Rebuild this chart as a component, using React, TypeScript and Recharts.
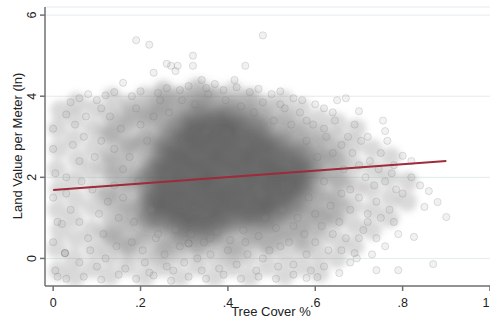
import { CartesianGrid, Label, Scatter, ScatterChart, XAxis, YAxis } from "recharts";

type Pt = [number, number];

const xTicks = [0, 0.2, 0.4, 0.6, 0.8, 1];
const xTickLabels = ["0", ".2", ".4", ".6", ".8", "1"];
const yTicks = [0, 2, 4, 6];

// linear fit, read at its two ends
const fitX = [0, 0.9];
const fitY = [1.69, 2.4];

// broad light cloud (blurred)
const cloudPts: Pt[] = [
  [0.012, -0.3], [0.008, 0.25], [0.015, 0.7], [0.01, 1.2], [0.014, 1.7], [0.009, 2.2], [0.013, 2.7], [0.01, 3.2], [0.016, 3.65],
  [0.05, -0.45], [0.048, 0.0], [0.053, 0.48], [0.047, 0.98], [0.052, 1.45], [0.05, 1.95], [0.055, 2.45], [0.049, 2.95], [0.051, 3.45], [0.054, 3.85],
  [0.09, -0.25], [0.093, 0.22], [0.088, 0.72], [0.091, 1.25], [0.095, 1.72], [0.087, 2.2], [0.092, 2.72], [0.09, 3.2], [0.094, 3.7],
  [0.13, -0.42], [0.128, 0.05], [0.133, 0.55], [0.131, 1.05], [0.127, 1.55], [0.134, 2.05], [0.13, 2.55], [0.132, 3.05], [0.129, 3.55], [0.135, 3.98],
  [0.17, -0.2], [0.173, 0.3], [0.168, 0.8], [0.171, 1.3], [0.175, 1.8], [0.169, 2.3], [0.172, 2.8], [0.17, 3.3], [0.174, 3.8],
  [0.21, -0.45], [0.212, 0.02], [0.208, 0.5], [0.213, 1.0], [0.21, 1.5], [0.207, 2.0], [0.214, 2.5], [0.21, 3.0], [0.212, 3.5], [0.209, 4.0],
  [0.25, -0.22], [0.252, 0.28], [0.248, 0.78], [0.253, 1.28], [0.25, 1.78], [0.247, 2.28], [0.251, 2.78], [0.254, 3.28], [0.249, 3.78], [0.252, 4.15],
  [0.29, -0.45], [0.288, 0.05], [0.293, 0.52], [0.29, 1.02], [0.287, 1.52], [0.292, 2.02], [0.29, 2.52], [0.294, 3.02], [0.289, 3.52], [0.291, 4.0],
  [0.33, -0.2], [0.333, 0.3], [0.328, 0.8], [0.331, 1.3], [0.335, 1.8], [0.329, 2.3], [0.332, 2.8], [0.33, 3.3], [0.334, 3.8], [0.33, 4.2],
  [0.37, -0.45], [0.372, 0.02], [0.368, 0.5], [0.373, 1.0], [0.37, 1.5], [0.367, 2.0], [0.374, 2.5], [0.37, 3.0], [0.372, 3.5], [0.369, 4.0],
  [0.41, -0.22], [0.412, 0.28], [0.408, 0.78], [0.413, 1.28], [0.41, 1.78], [0.407, 2.28], [0.411, 2.78], [0.414, 3.28], [0.409, 3.78], [0.412, 4.12],
  [0.45, -0.45], [0.448, 0.05], [0.453, 0.52], [0.45, 1.02], [0.447, 1.52], [0.452, 2.02], [0.45, 2.52], [0.454, 3.02], [0.449, 3.52], [0.451, 3.95],
  [0.49, -0.2], [0.493, 0.3], [0.488, 0.8], [0.491, 1.3], [0.495, 1.8], [0.489, 2.3], [0.492, 2.8], [0.49, 3.3], [0.494, 3.8],
  [0.53, -0.42], [0.532, 0.05], [0.528, 0.52], [0.533, 1.02], [0.53, 1.52], [0.527, 2.02], [0.534, 2.52], [0.53, 3.02], [0.532, 3.5], [0.529, 3.9],
  [0.57, -0.2], [0.572, 0.28], [0.568, 0.78], [0.573, 1.28], [0.57, 1.78], [0.567, 2.28], [0.571, 2.78], [0.574, 3.25], [0.569, 3.7],
  [0.61, -0.35], [0.608, 0.1], [0.613, 0.55], [0.61, 1.05], [0.607, 1.55], [0.612, 2.05], [0.61, 2.55], [0.614, 3.05], [0.609, 3.45],
  [0.65, 0.0], [0.653, 0.45], [0.648, 0.95], [0.651, 1.45], [0.655, 1.95], [0.649, 2.45], [0.652, 2.95], [0.65, 3.35],
  [0.69, 0.3], [0.692, 0.8], [0.688, 1.3], [0.693, 1.8], [0.69, 2.3], [0.687, 2.8], [0.694, 3.2],
  [0.73, 0.7], [0.732, 1.2], [0.728, 1.7], [0.733, 2.2], [0.73, 2.7],
  [0.77, 1.0], [0.772, 1.5], [0.768, 2.0], [0.773, 2.5],
  [0.81, 1.4], [0.812, 1.9],
];

// medium density body (blurred)
const bodyPts: Pt[] = [
  [0.13, 0.6], [0.135, 1.5], [0.128, 2.3], [0.132, 3.1],
  [0.17, 0.3], [0.172, 1.1], [0.168, 1.9], [0.174, 2.7], [0.17, 3.5],
  [0.21, 0.7], [0.213, 1.4], [0.208, 2.1], [0.211, 2.9], [0.215, 3.6],
  [0.25, 0.2], [0.252, 0.9], [0.248, 1.5], [0.254, 2.2], [0.25, 2.8], [0.247, 3.4], [0.252, 3.9],
  [0.29, 0.5], [0.293, 1.2], [0.288, 1.8], [0.291, 2.5], [0.295, 3.2], [0.29, 3.8],
  [0.33, 0.3], [0.332, 0.9], [0.328, 1.6], [0.334, 2.2], [0.33, 2.9], [0.327, 3.5], [0.332, 4.0],
  [0.37, 0.6], [0.373, 1.3], [0.368, 1.9], [0.371, 2.6], [0.375, 3.3], [0.37, 3.9],
  [0.41, 0.2], [0.412, 0.9], [0.408, 1.6], [0.413, 2.3], [0.41, 3.0], [0.407, 3.6],
  [0.45, 0.6], [0.452, 1.2], [0.448, 1.9], [0.451, 2.6], [0.455, 3.3], [0.45, 3.8],
  [0.49, 0.4], [0.492, 1.0], [0.488, 1.6], [0.494, 2.2], [0.49, 2.9], [0.487, 3.5],
  [0.53, 0.7], [0.533, 1.3], [0.528, 2.0], [0.531, 2.7], [0.535, 3.3],
  [0.57, 0.5], [0.572, 1.1], [0.568, 1.8], [0.574, 2.4], [0.57, 3.0],
  [0.61, 0.9], [0.612, 1.5], [0.608, 2.2], [0.613, 2.8],
  [0.65, 1.2], [0.652, 1.9], [0.648, 2.5],
];

// dark core (blurred)
const corePts: Pt[] = [
  [0.29, 0.78], [0.33, 0.74], [0.37, 0.77],
  [0.22, 1.1], [0.25, 1.08], [0.29, 1.04], [0.325, 1.07], [0.36, 1.05], [0.395, 1.08], [0.43, 1.04], [0.465, 1.06], [0.5, 1.08],
  [0.235, 1.42], [0.27, 1.38], [0.305, 1.41], [0.34, 1.4], [0.375, 1.43], [0.41, 1.39], [0.445, 1.41], [0.48, 1.4], [0.515, 1.42], [0.55, 1.4],
  [0.225, 1.77], [0.26, 1.74], [0.295, 1.76], [0.33, 1.75], [0.365, 1.78], [0.4, 1.74], [0.435, 1.76], [0.47, 1.75], [0.505, 1.77], [0.54, 1.74], [0.57, 1.8],
  [0.23, 2.12], [0.265, 2.08], [0.3, 2.11], [0.335, 2.1], [0.37, 2.13], [0.405, 2.09], [0.44, 2.11], [0.475, 2.1], [0.51, 2.12], [0.545, 2.08], [0.58, 2.15],
  [0.25, 2.47], [0.285, 2.44], [0.32, 2.46], [0.355, 2.45], [0.39, 2.48], [0.425, 2.44], [0.46, 2.46], [0.495, 2.45], [0.53, 2.47], [0.565, 2.5],
  [0.265, 2.82], [0.3, 2.79], [0.335, 2.81], [0.37, 2.8], [0.405, 2.83], [0.44, 2.79], [0.475, 2.81], [0.51, 2.8],
  [0.29, 3.17], [0.325, 3.14], [0.36, 3.16], [0.395, 3.15], [0.43, 3.18], [0.465, 3.14],
  [0.33, 3.48], [0.37, 3.44], [0.41, 3.47],
];

// single visible markers: edges, outliers, sparse interior
const edgePts: Pt[] = [
  [0.19, 5.38], [0.22, 5.27], [0.32, 5.0], [0.32, 4.75], [0.26, 4.8], [0.27, 4.75], [0.285, 4.75], [0.28, 4.62],
  [0.23, 4.58], [0.16, 4.33], [0.34, 4.4], [0.44, 4.75], [0.415, 4.4], [0.48, 5.5], [0.7, 3.63], [0.76, 3.14],
  [0.765, 2.9], [0.8, 2.53], [0.67, 3.95], [0.65, 3.9], [0.9, 1.02], [0.87, -0.14], [0.826, 0.53], [0.88, 1.39],
  [0.86, 1.66], [0.85, 1.27], [0.79, -0.29], [0.74, -0.29], [0.69, 0.13], [0.655, -0.36], [0.605, -0.46],
  [0.03, 3.55], [0.04, 3.85], [0.06, 3.95], [0.08, 4.05], [0.1, 3.9], [0.12, 4.02], [0.14, 4.1], [0.18, 4.0],
  [0.2, 4.12], [0.24, 4.08], [0.26, 4.2], [0.29, 4.15], [0.31, 4.25], [0.35, 4.2], [0.37, 4.3], [0.39, 4.15],
  [0.42, 4.22], [0.45, 4.1], [0.47, 4.18], [0.5, 4.05], [0.52, 4.12], [0.55, 3.95], [0.57, 3.9], [0.6, 3.8],
  [0.62, 3.7], [0.64, 3.6],
  [0.0, 3.2], [0.0, 2.7], [0.005, 2.1], [0.0, 1.5], [0.01, 0.9], [0.0, 0.4], [0.005, -0.3], [0.01, -0.45],
  [0.03, -0.5], [0.07, -0.45], [0.11, -0.52], [0.15, -0.4], [0.19, -0.5], [0.23, -0.42], [0.27, -0.55], [0.31, -0.45],
  [0.35, -0.5], [0.39, -0.4], [0.43, -0.5], [0.47, -0.45], [0.51, -0.5], [0.55, -0.4], [0.58, -0.48],
  [0.62, -0.2], [0.66, 0.2], [0.7, 0.5], [0.72, 0.9], [0.74, 1.4], [0.76, 1.9], [0.78, 2.3], [0.75, 2.6],
  [0.72, 3.0], [0.69, 3.3], [0.8, 1.6], [0.82, 2.0], [0.84, 1.8], [0.78, 0.9], [0.76, 0.3], [0.73, 0.1],
  [0.68, -0.1], [0.82, 2.4],
  [0.02, 0.85], [0.027, 0.13], [0.027, 0.13], [0.027, 0.13], [0.04, 1.2], [0.06, 2.4], [0.05, 3.3], [0.08, 0.5],
  [0.09, 1.7], [0.11, 2.9], [0.12, 0.0], [0.13, 3.5], [0.15, 1.0], [0.16, 2.2], [0.18, 0.4], [0.2, 3.3],
  [0.21, -0.1], [0.24, 0.6], [0.26, -0.2], [0.29, 0.3], [0.31, 0.37], [0.31, 0.37], [0.33, 0.0], [0.36, 0.5],
  [0.4, 0.2], [0.44, 0.4], [0.48, 0.0], [0.52, 0.3], [0.55, 0.8], [0.58, 0.1], [0.6, 1.1], [0.62, 3.2],
  [0.66, 2.8], [0.68, 1.7], [0.7, 2.3], [0.64, 0.6], [0.58, 3.4], [0.53, 3.7], [0.1, -0.2], [0.06, -0.1],
  [0.14, 1.8], [0.03, 2.0], [0.07, 3.0],
];

// extra texture markers in the lighter parts of the cloud
const texturePts: Pt[] = [
  [0.03, 1.6], [0.045, 2.8], [0.06, 0.9], [0.065, 1.9], [0.075, 3.5], [0.085, 0.2], [0.095, 2.5], [0.105, 1.1],
  [0.11, 3.7], [0.115, 0.6], [0.125, 1.4], [0.14, 2.7], [0.145, 0.3], [0.155, 3.2], [0.16, 1.5], [0.165, -0.25],
  [0.175, 2.5], [0.185, 0.9], [0.19, 3.7], [0.195, 1.9], [0.205, 0.2], [0.215, 2.9], [0.22, -0.35], [0.225, 1.2],
  [0.23, 3.5], [0.235, 0.5], [0.245, 3.9], [0.255, 0.1], [0.265, 3.6], [0.275, -0.3], [0.28, 0.7], [0.295, 3.9],
  [0.3, -0.1], [0.315, 0.6], [0.325, 3.8], [0.34, -0.3], [0.345, 0.4], [0.355, 4.05], [0.36, 0.1], [0.375, 0.65],
  [0.38, -0.25], [0.395, 3.9], [0.405, 0.45], [0.42, -0.15], [0.43, 3.75], [0.435, 0.7], [0.445, 0.1], [0.46, 3.6],
  [0.465, -0.3], [0.47, 0.55], [0.48, 3.85], [0.485, 1.0], [0.495, 0.2], [0.505, 3.4], [0.51, 0.75], [0.515, -0.2],
  [0.52, 3.8], [0.525, 1.2], [0.54, 0.4], [0.545, 3.3], [0.55, -0.15], [0.56, 1.0], [0.565, 3.6], [0.575, 0.6],
  [0.58, 2.9], [0.585, 1.5], [0.59, -0.3], [0.595, 3.3], [0.6, 0.4], [0.605, 2.5], [0.615, 0.8], [0.62, 1.9],
  [0.625, 3.0], [0.63, 0.2], [0.635, 1.3], [0.64, 2.6], [0.645, 3.4], [0.655, 0.9], [0.66, 1.6], [0.665, 2.2],
  [0.67, 0.5], [0.675, 3.0], [0.68, 1.2], [0.685, 2.6], [0.695, 0.0], [0.7, 1.5], [0.705, 2.9], [0.71, 0.7],
  [0.715, 2.0], [0.72, 1.1], [0.725, 2.4], [0.735, 1.8], [0.74, 0.5], [0.745, 2.2], [0.75, 1.0], [0.755, 3.4],
  [0.77, 1.2], [0.775, 2.1], [0.785, 1.7], [0.79, 0.6],
];

const toRows = (pts: Pt[]) => pts.map(([x, y]) => ({ x, y }));
const fitRows = fitX.map((x, i) => ({ x, y: fitY[i] }));

const FONT = "'Liberation Sans', Arial, sans-serif";
const AXIS = "#707070";

function dot(r: number, fill: string, op: number, stroke = "none", sop = 0) {
  return (p: any) => (
    <circle cx={p.cx} cy={p.cy} r={r} fill={fill} fillOpacity={op} stroke={stroke} strokeOpacity={sop} strokeWidth={1} />
  );
}

function XTick(p: any) {
  const i = xTicks.indexOf(p.payload.value);
  return (
    <text x={p.x} y={307} textAnchor="middle" fontSize={12.5} fill="#222" fontFamily={FONT}>
      {xTickLabels[i]}
    </text>
  );
}

function YTick(p: any) {
  return (
    <text x={36} y={p.y} transform={`rotate(-90, 36, ${p.y})`} textAnchor="middle" fontSize={12.5} fill="#222" fontFamily={FONT}>
      {String(p.payload.value)}
    </text>
  );
}

export default function App() {
  return (
    <div style={{ position: "absolute", left: 0, top: 0, width: 490, height: 320, background: "#fff" }}>
      <style>{`
        .soft3 { filter: url(#soft3); }
        .soft6 { filter: url(#soft6); }
      `}</style>
      <svg width={0} height={0} style={{ position: "absolute" }}>
        <defs>
          <filter id="soft3" filterUnits="userSpaceOnUse" x={0} y={0} width={490} height={320}>
            <feGaussianBlur stdDeviation={3} />
          </filter>
          <filter id="soft6" filterUnits="userSpaceOnUse" x={0} y={0} width={490} height={320}>
            <feGaussianBlur stdDeviation={6} />
          </filter>
        </defs>
      </svg>
      <ScatterChart width={490} height={320} margin={{ top: 7, right: 0, bottom: 0, left: 0 }}>
        <CartesianGrid horizontal vertical={false} stroke="#e3ecee" strokeWidth={1} />
        <XAxis
          type="number"
          dataKey="x"
          domain={[-0.0187, 1]}
          ticks={xTicks}
          height={34}
          stroke={AXIS}
          strokeWidth={1.5}
          tickSize={5}
          tick={<XTick />}
          allowDataOverflow
        >
          <Label
            content={() => (
              <text x={271} y={316} textAnchor="middle" fontSize={13} fill="#222" fontFamily={FONT}>
                Tree Cover %
              </text>
            )}
          />
        </XAxis>
        <YAxis
          type="number"
          dataKey="y"
          domain={[-0.68, 6.2]}
          ticks={yTicks}
          width={45}
          stroke={AXIS}
          strokeWidth={1.5}
          tickSize={5}
          tick={<YTick />}
          allowDataOverflow
        >
          <Label
            content={() => (
              <text x={22} y={146} transform="rotate(-90, 22, 146)" textAnchor="middle" fontSize={13} fill="#222" fontFamily={FONT}>
                Land Value per Meter (ln)
              </text>
            )}
          />
        </YAxis>
        <Scatter className="soft3" data={toRows(cloudPts)} shape={dot(10, "#808080", 0.3)} isAnimationActive={false} />
        <Scatter className="soft6" data={toRows(bodyPts)} shape={dot(13, "#6a6a6a", 0.36)} isAnimationActive={false} />
        <Scatter className="soft6" data={toRows(corePts)} shape={dot(14, "#4a4a4a", 0.36)} isAnimationActive={false} />
        <Scatter data={toRows(texturePts)} shape={dot(3.6, "#9a9a9a", 0.12, "#707070", 0.2)} isAnimationActive={false} />
        <Scatter data={toRows(edgePts)} shape={dot(3.6, "#9a9a9a", 0.14, "#777777", 0.22)} isAnimationActive={false} />
        <Scatter
          data={fitRows}
          line={{ stroke: "#9e2a3a", strokeWidth: 2 }}
          shape={() => <g />}
          isAnimationActive={false}
        />
      </ScatterChart>
    </div>
  );
}
